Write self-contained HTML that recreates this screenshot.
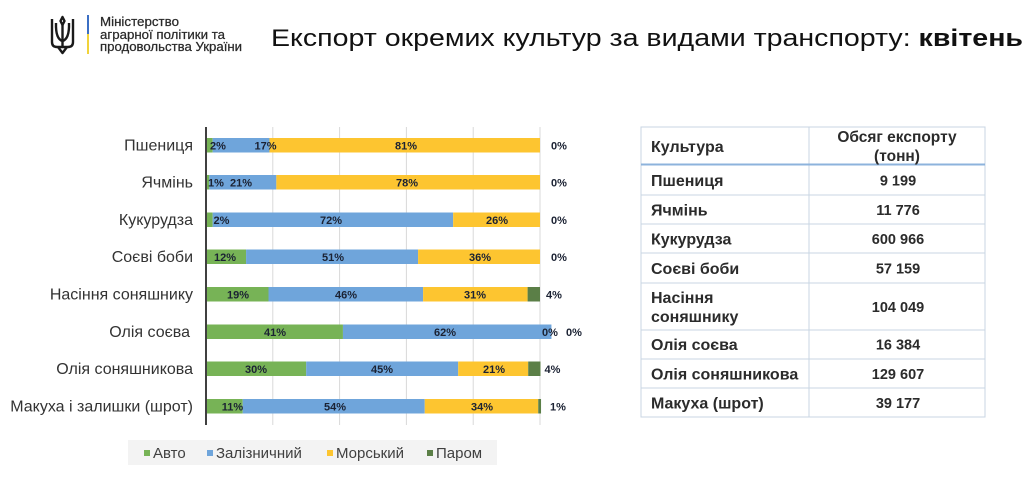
<!DOCTYPE html>
<html><head><meta charset="utf-8"><style>
html,body{margin:0;padding:0;background:#fff;}
svg{display:block;}
text{font-family:"Liberation Sans","Noto Sans CJK SC",sans-serif;}
</style></head><body>
<svg width="1034" height="479" viewBox="0 0 1034 479" xmlns="http://www.w3.org/2000/svg">
<rect width="1034" height="479" fill="#fff"/>
<!-- header logo -->
<g fill="none" stroke="#1a1a1a" stroke-width="2.4" stroke-linejoin="round">
<path d="M52,19 L52,42 Q52,47 57,47 L68,47 Q73,47 73,42 L73,19"/>
<path d="M62.5,17 L60.5,21 L62.5,25 L64.5,21 Z"/>
<path d="M62.5,25 L62.5,46"/>
<path d="M56,23 Q55.5,39 62.5,41 Q69.5,39 69,23"/>
<path d="M58,47 L62.5,53 L67,47"/>
</g>
<rect x="87" y="15" width="2" height="19" fill="#3b6fc4"/>
<rect x="87" y="34" width="2" height="20" fill="#f1d33a"/>
<g font-size="12.5" fill="#2a2a2a" stroke="#2a2a2a" stroke-width="0.25">
<text x="100" y="26" textLength="79" lengthAdjust="spacingAndGlyphs">Міністерство</text>
<text x="100" y="39" textLength="125" lengthAdjust="spacingAndGlyphs">аграрної політики та</text>
<text x="100" y="51" textLength="142" lengthAdjust="spacingAndGlyphs">продовольства України</text>
</g>
<text x="271" y="46" font-size="24.5" fill="#111" textLength="752" lengthAdjust="spacingAndGlyphs">Експорт окремих культур за видами транспорту: <tspan font-weight="bold">квітень</tspan></text>

<!-- gridlines -->
<g stroke="#d9d9d9" stroke-width="1">
<line x1="272.8" y1="127" x2="272.8" y2="425"/>
<line x1="339.6" y1="127" x2="339.6" y2="425"/>
<line x1="406.4" y1="127" x2="406.4" y2="425"/>
<line x1="473.2" y1="127" x2="473.2" y2="425"/>
<line x1="540" y1="127" x2="540" y2="425"/>
</g>

<!-- bars -->
<rect x="206" y="138" width="6.68" height="14.5" fill="#77b356"/>
<rect x="212.68" y="138" width="56.78" height="14.5" fill="#6fa5db"/>
<rect x="269.46" y="138" width="270.54" height="14.5" fill="#fdc530"/>

<rect x="206" y="175" width="3.34" height="14.5" fill="#77b356"/>
<rect x="209.34" y="175" width="67" height="14.5" fill="#6fa5db"/>
<rect x="276.34" y="175" width="263.66" height="14.5" fill="#fdc530"/>

<rect x="206" y="212.5" width="6.68" height="14.5" fill="#77b356"/>
<rect x="212.68" y="212.5" width="240.48" height="14.5" fill="#6fa5db"/>
<rect x="453.16" y="212.5" width="86.84" height="14.5" fill="#fdc530"/>

<rect x="206" y="249.5" width="40.08" height="14.5" fill="#77b356"/>
<rect x="246.08" y="249.5" width="172" height="14.5" fill="#6fa5db"/>
<rect x="418.08" y="249.5" width="121.92" height="14.5" fill="#fdc530"/>

<rect x="206" y="287" width="62.5" height="14.5" fill="#77b356"/>
<rect x="268.5" y="287" width="154.6" height="14.5" fill="#6fa5db"/>
<rect x="423.1" y="287" width="104.5" height="14.5" fill="#fdc530"/>
<rect x="527.6" y="287" width="12.4" height="14.5" fill="#5b7f47"/>

<rect x="206" y="324.5" width="136.94" height="14.5" fill="#77b356"/>
<rect x="342.94" y="324.5" width="208.5" height="14.5" fill="#6fa5db"/>

<rect x="206" y="361.5" width="100.2" height="14.5" fill="#77b356"/>
<rect x="306.2" y="361.5" width="152" height="14.5" fill="#6fa5db"/>
<rect x="458.2" y="361.5" width="70" height="14.5" fill="#fdc530"/>
<rect x="528.2" y="361.5" width="12.3" height="14.5" fill="#5b7f47"/>

<rect x="206" y="399" width="36.74" height="14.5" fill="#77b356"/>
<rect x="242.74" y="399" width="182" height="14.5" fill="#6fa5db"/>
<rect x="424.74" y="399" width="113.5" height="14.5" fill="#fdc530"/>
<rect x="538.24" y="399" width="2.8" height="14.5" fill="#5b7f47"/>

<!-- axis -->
<rect x="205" y="127" width="2" height="298" fill="#404040"/>

<!-- data labels -->
<g font-size="11" font-weight="bold" fill="#1b2233" text-anchor="middle">
<text x="218" y="149.5">2%</text><text x="265.5" y="149.5">17%</text><text x="406" y="149.5">81%</text><text x="559" y="149.5">0%</text>
<text x="216" y="186.5">1%</text><text x="241" y="186.5">21%</text><text x="407" y="186.5">78%</text><text x="559" y="186.5">0%</text>
<text x="221.5" y="224">2%</text><text x="331" y="224">72%</text><text x="497" y="224">26%</text><text x="559" y="224">0%</text>
<text x="225" y="261">12%</text><text x="333" y="261">51%</text><text x="480" y="261">36%</text><text x="559" y="261">0%</text>
<text x="238" y="298.5">19%</text><text x="346" y="298.5">46%</text><text x="475" y="298.5">31%</text><text x="554" y="298.5">4%</text>
<text x="275" y="336">41%</text><text x="445" y="336">62%</text><text x="550" y="336">0%</text><text x="574" y="336">0%</text>
<text x="256" y="373">30%</text><text x="382" y="373">45%</text><text x="494" y="373">21%</text><text x="552.5" y="373">4%</text>
<text x="232.5" y="410.5">11%</text><text x="335" y="410.5">54%</text><text x="482" y="410.5">34%</text><text x="558" y="410.5">1%</text>
</g>

<!-- category labels -->
<g font-size="16" fill="#333" text-anchor="end">
<text x="193" y="150.5">Пшениця</text>
<text x="193" y="187.5">Ячмінь</text>
<text x="193" y="225">Кукурудза</text>
<text x="193" y="262">Соєві боби</text>
<text x="193" y="299.5">Насіння соняшнику</text>
<text x="190" y="337">Олія соєва</text>
<text x="193" y="374">Олія соняшникова</text>
<text x="193" y="411.5">Макуха і залишки (шрот)</text>
</g>

<!-- legend -->
<rect x="128" y="440" width="369" height="25" fill="#f3f3f3"/>
<rect x="144" y="450" width="6" height="6" fill="#77b356"/>
<rect x="207" y="450" width="6" height="6" fill="#6fa5db"/>
<rect x="327" y="450" width="6" height="6" fill="#fdc530"/>
<rect x="427" y="450" width="6" height="6" fill="#5b7f47"/>
<g font-size="15" fill="#404040">
<text x="153" y="458">Авто</text>
<text x="216" y="458">Залізничний</text>
<text x="336" y="458">Морський</text>
<text x="436" y="458">Паром</text>
</g>

<!-- table -->
<rect x="641" y="127" width="344" height="290" fill="#fff" stroke="#c8d5e3" stroke-width="1"/>
<line x1="809" y1="127" x2="809" y2="417" stroke="#c8d5e3" stroke-width="1"/>
<g stroke="#c8d5e3" stroke-width="1">
<line x1="641" y1="195" x2="985" y2="195"/>
<line x1="641" y1="224" x2="985" y2="224"/>
<line x1="641" y1="253" x2="985" y2="253"/>
<line x1="641" y1="283" x2="985" y2="283"/>
<line x1="641" y1="330" x2="985" y2="330"/>
<line x1="641" y1="359" x2="985" y2="359"/>
<line x1="641" y1="388" x2="985" y2="388"/>
</g>
<rect x="641" y="163.5" width="344" height="2" fill="#8db3dc"/>
<g font-size="16" font-weight="bold" fill="#2b2b2b">
<text x="651" y="152">Культура</text>
<text x="651" y="186">Пшениця</text>
<text x="651" y="215.5">Ячмінь</text>
<text x="651" y="244.5">Кукурудза</text>
<text x="651" y="274">Соєві боби</text>
<text x="651" y="303">Насіння</text>
<text x="651" y="322">соняшнику</text>
<text x="651" y="350">Олія соєва</text>
<text x="651" y="379.5">Олія соняшникова</text>
<text x="651" y="408.5">Макуха (шрот)</text>
</g>
<g font-size="15.5" font-weight="bold" fill="#2b2b2b" text-anchor="middle">
<text x="897" y="142">Обсяг експорту</text>
<text x="897" y="161">(тонн)</text>
</g>
<g font-size="14.5" font-weight="bold" fill="#2b2b2b" text-anchor="middle">
<text x="898" y="185.5">9 199</text>
<text x="898" y="215">11 776</text>
<text x="898" y="244">600 966</text>
<text x="898" y="273.5">57 159</text>
<text x="898" y="312">104 049</text>
<text x="898" y="349.5">16 384</text>
<text x="898" y="379">129 607</text>
<text x="898" y="408">39 177</text>
</g>
</svg>
</body></html>
